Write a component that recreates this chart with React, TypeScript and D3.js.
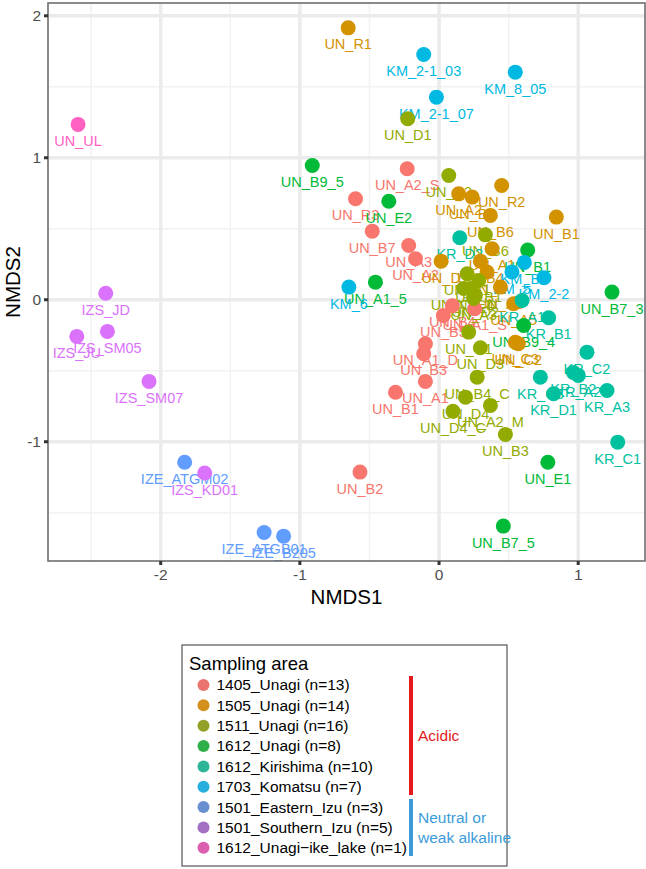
import React from "react";
import * as d3 from "d3";

type Pt = { label: string; x: number; y: number };

const groupNames = [
  "1405_Unagi (n=13)",
  "1505_Unagi (n=14)",
  "1511_Unagi (n=16)",
  "1612_Unagi (n=8)",
  "1612_Kirishima (n=10)",
  "1703_Komatsu (n=7)",
  "1501_Eastern_Izu (n=3)",
  "1501_Southern_Izu (n=5)",
  "1612_Unagi\u2212ike_lake (n=1)",
];
const groupColors = [
  "#F8766D", "#D39200", "#93AA00", "#00BA38", "#00C19F",
  "#00B9E3", "#619CFF", "#DB72FB", "#FF61C3",
];
const legendColors = [
  "#EC7470", "#D3901A", "#93A028", "#2FAF49", "#2DB597",
  "#25AEDE", "#6A8FD0", "#A26FC2", "#DC5EAE",
];

const unagi1405: Pt[] = [
  { label: "UN_A2_S", x: -0.229, y: 0.923 },
  { label: "UN_R3", x: -0.6, y: 0.711 },
  { label: "UN_B7", x: -0.48, y: 0.483 },
  { label: "UN_A3", x: -0.218, y: 0.382 },
  { label: "UN_A2", x: -0.169, y: 0.289 },
  { label: "UN_B4", x: 0.095, y: -0.042 },
  { label: "UN_B5", x: 0.031, y: -0.111 },
  { label: "UN_A1_S", x: 0.256, y: -0.063 },
  { label: "UN_A1_D", x: -0.098, y: -0.31 },
  { label: "UN_B3", x: -0.11, y: -0.38 },
  { label: "UN_A1", x: -0.098, y: -0.575 },
  { label: "UN_B1", x: -0.313, y: -0.651 },
  { label: "UN_B2", x: -0.568, y: -1.214 },
];
const unagi1505: Pt[] = [
  { label: "UN_R1", x: -0.653, y: 1.915 },
  { label: "UN_A2", x: 0.141, y: 0.746 },
  { label: "UN_B2", x: 0.238, y: 0.723 },
  { label: "UN_R2", x: 0.45, y: 0.805 },
  { label: "UN_B6", x: 0.369, y: 0.594 },
  { label: "UN_B1", x: 0.843, y: 0.582 },
  { label: "UN_A1", x: 0.381, y: 0.359 },
  { label: "UN_D", x: 0.015, y: 0.272 },
  { label: "UN_B4", x: 0.297, y: 0.272 },
  { label: "UN_E", x: 0.345, y: 0.195 },
  { label: "UN_A3", x: 0.441, y: 0.089 },
  { label: "UN_A5", x: 0.536, y: -0.028 },
  { label: "UN_C3", x: 0.548, y: -0.299 },
  { label: "UN_C2", x: 0.57, y: -0.31 },
];
const unagi1511: Pt[] = [
  { label: "UN_D1", x: -0.225, y: 1.275 },
  { label: "UN_A2", x: 0.07, y: 0.875 },
  { label: "UN_B6", x: 0.333, y: 0.457 },
  { label: "UN_A1", x: 0.202, y: 0.183 },
  { label: "UN_B1", x: 0.285, y: 0.136 },
  { label: "UN_C4", x: 0.225, y: 0.079 },
  { label: "UN_D2", x: 0.261, y: 0.03 },
  { label: "UN_A3", x: 0.249, y: 0.009 },
  { label: "UN_C1_D", x: 0.177, y: 0.08 },
  { label: "UN_C1", x: 0.213, y: -0.228 },
  { label: "UN_D3", x: 0.297, y: -0.338 },
  { label: "UN_B4_C", x: 0.274, y: -0.545 },
  { label: "UN_D4", x: 0.19, y: -0.686 },
  { label: "UN_D4_C", x: 0.1, y: -0.785 },
  { label: "UN_A2_M", x: 0.369, y: -0.744 },
  { label: "UN_B3", x: 0.477, y: -0.949 },
];
const unagi1612: Pt[] = [
  { label: "UN_B9_5", x: -0.911, y: 0.946 },
  { label: "UN_E2", x: -0.361, y: 0.694 },
  { label: "UN_A1_5", x: -0.457, y: 0.124 },
  { label: "UN_B1", x: 0.637, y: 0.35 },
  { label: "UN_B7_3", x: 1.243, y: 0.054 },
  { label: "UN_B9_4", x: 0.608, y: -0.181 },
  { label: "UN_E1", x: 0.782, y: -1.144 },
  { label: "UN_B7_5", x: 0.462, y: -1.594 },
];
const kirishima1612: Pt[] = [
  { label: "KR_D2", x: 0.149, y: 0.437 },
  { label: "KR_A1", x: 0.597, y: -0.005 },
  { label: "KR_B1", x: 0.788, y: -0.127 },
  { label: "KR_C2", x: 1.063, y: -0.369 },
  { label: "KR_C3", x: 0.728, y: -0.545 },
  { label: "KR_B2", x: 0.965, y: -0.512 },
  { label: "KR_A2", x: 1.001, y: -0.533 },
  { label: "KR_D1", x: 0.823, y: -0.662 },
  { label: "KR_A3", x: 1.207, y: -0.639 },
  { label: "KR_C1", x: 1.284, y: -1.003 },
];
const komatsu1703: Pt[] = [
  { label: "KM_2-1_03", x: -0.11, y: 1.727 },
  { label: "KM_8_05", x: 0.548, y: 1.603 },
  { label: "KM_2-1_07", x: -0.019, y: 1.427 },
  { label: "KM_6", x: -0.648, y: 0.089 },
  { label: "KM_5", x: 0.524, y: 0.195 },
  { label: "KM_B1", x: 0.613, y: 0.263 },
  { label: "KM_2-2", x: 0.754, y: 0.155 },
];
const easternIzu1501: Pt[] = [
  { label: "IZE_ATGM02", x: -1.828, y: -1.144 },
  { label: "IZE_ATGB01", x: -1.257, y: -1.639 },
  { label: "IZE_B205", x: -1.117, y: -1.665 },
];
const southernIzu1501: Pt[] = [
  { label: "IZS_JD", x: -2.395, y: 0.046 },
  { label: "IZS_SM05", x: -2.383, y: -0.223 },
  { label: "IZS_JU", x: -2.603, y: -0.258 },
  { label: "IZS_SM07", x: -2.084, y: -0.575 },
  { label: "IZS_KD01", x: -1.684, y: -1.22 },
];
const unagiLake1612: Pt[] = [{ label: "UN_UL", x: -2.594, y: 1.235 }];

const groupPoints = [
  unagi1405, unagi1505, unagi1511, unagi1612, kirishima1612,
  komatsu1703, easternIzu1501, southernIzu1501, unagiLake1612,
];

const xMajor = [-2, -1, 0, 1];
const yMajor = [-1, 0, 1, 2];
const xMinor = [-2.5, -1.5, -0.5, 0.5];
const yMinor = [-1.5, -0.5, 0.5, 1.5];
const xDomain = [-2.81, 1.48];
const yDomain = [-1.84, 2.09];

const FONT = "'Liberation Sans', Arial, Helvetica, sans-serif";

export default function App() {
  const W = 646;
  const H = 869;
  const left = 48;
  const right = 645;
  const top = 3;
  const bottom = 561;
  const x = d3.scaleLinear().domain(xDomain).range([left, right]);
  const y = d3.scaleLinear().domain(yDomain).range([bottom, top]);

  const all = groupPoints.flatMap((pts, gi) => pts.map((p) => ({ ...p, gi })));

  const legX = 182;
  const legY = 645;
  const rowY0 = 685;
  const rowH = 20.35;

  return (
    <svg
      width={W}
      height={H}
      style={{ position: "absolute", left: 0, top: 0, background: "#fff" }}
      fontFamily={FONT}
    >
      <rect x={0} y={0} width={W} height={H} fill="#fff" />
      <defs>
        <clipPath id="panel">
          <rect x={left} y={top} width={right - left} height={bottom - top} />
        </clipPath>
      </defs>
      <g clipPath="url(#panel)">
        {xMinor.map((v) => (
          <line key={"xm" + v} x1={x(v)} x2={x(v)} y1={top} y2={bottom} stroke="#f2f2f2" strokeWidth={1.5} />
        ))}
        {yMinor.map((v) => (
          <line key={"ym" + v} x1={left} x2={right} y1={y(v)} y2={y(v)} stroke="#f2f2f2" strokeWidth={1.5} />
        ))}
        {xMajor.map((v) => (
          <line key={"xM" + v} x1={x(v)} x2={x(v)} y1={top} y2={bottom} stroke="#ebebeb" strokeWidth={3.5} />
        ))}
        {yMajor.map((v) => (
          <line key={"yM" + v} x1={left} x2={right} y1={y(v)} y2={y(v)} stroke="#ebebeb" strokeWidth={3.5} />
        ))}
      </g>
      <g>
        {all.map((p, i) => (
          <text
            key={"t" + i}
            x={x(p.x)}
            y={y(p.y) + 16.5}
            dy="0.35em"
            textAnchor="middle"
            fontSize={14.5}
            fill={groupColors[p.gi]}
          >
            {p.label}
          </text>
        ))}
      </g>
      <g>
        {all.map((p, i) => (
          <circle key={"c" + i} cx={x(p.x)} cy={y(p.y)} r={7.5} fill={groupColors[p.gi]} />
        ))}
      </g>
      <rect
        x={left}
        y={top}
        width={right - left}
        height={bottom - top}
        fill="none"
        stroke="#6e6e6e"
        strokeWidth={1.6}
      />
      {xMajor.map((v) => (
        <g key={"xt" + v}>
          <line x1={x(v)} x2={x(v)} y1={bottom} y2={bottom + 4} stroke="#333" strokeWidth={3} />
          <text x={x(v)} y={bottom + 14} dy="0.35em" textAnchor="middle" fontSize={15.5} fill="#4d4d4d">
            {String(v)}
          </text>
        </g>
      ))}
      {yMajor.map((v) => (
        <g key={"yt" + v}>
          <line x1={left - 4} x2={left} y1={y(v)} y2={y(v)} stroke="#333" strokeWidth={3} />
          <text x={left - 7} y={y(v)} dy="0.35em" textAnchor="end" fontSize={15.5} fill="#4d4d4d">
            {String(v)}
          </text>
        </g>
      ))}
      <text x={(left + right) / 2} y={597} dy="0.35em" textAnchor="middle" fontSize={20.5} fill="#000">
        NMDS1
      </text>
      <text
        transform={`translate(13,${(top + bottom) / 2}) rotate(-90)`}
        dy="0.35em"
        textAnchor="middle"
        fontSize={20.5}
        fill="#000"
      >
        NMDS2
      </text>

      {/* legend */}
      <rect x={legX} y={legY} width={325} height={221} fill="#fff" stroke="#555" strokeWidth={1.2} />
      <text x={189} y={670} fontSize={18.5} fill="#000">
        Sampling area
      </text>
      {groupNames.map((n, i) => (
        <g key={"lg" + i}>
          <circle cx={203.5} cy={rowY0 + i * rowH} r={6} fill={legendColors[i]} />
          <text x={216.5} y={rowY0 + i * rowH} dy="0.35em" fontSize={15.5} fill="#000">
            {n}
          </text>
        </g>
      ))}
      <rect x={409} y={676} width={4} height={119} fill="#e41a1c" />
      <rect x={409} y={799} width={4} height={57} fill="#3b9bd9" />
      <text x={418} y={736} dy="0.35em" fontSize={15.5} fill="#e41a1c">
        Acidic
      </text>
      <text x={418} y={818} dy="0.35em" fontSize={15.5} fill="#3b9bd9">
        Neutral or
      </text>
      <text x={418} y={837.5} dy="0.35em" fontSize={15.5} fill="#3b9bd9">
        weak alkaline
      </text>
    </svg>
  );
}
